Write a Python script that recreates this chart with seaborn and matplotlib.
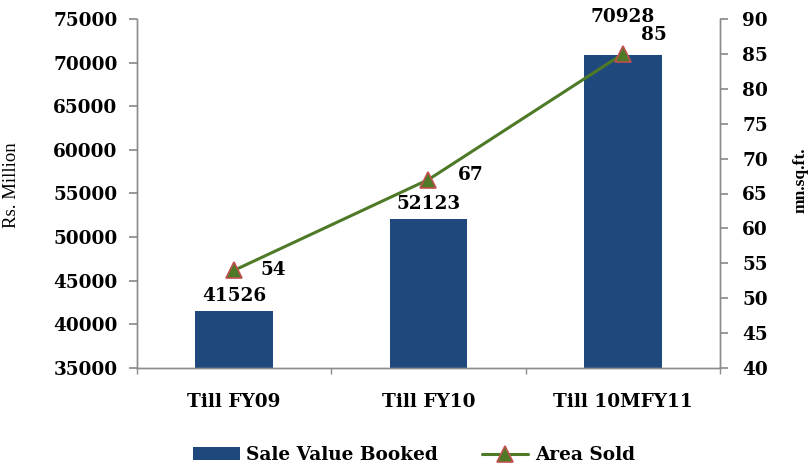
import matplotlib
matplotlib.use("Agg")
import matplotlib.pyplot as plt
import seaborn as sns
import numpy as np

categories = ["Till FY09", "Till FY10", "Till 10MFY11"]
sale_value = [41526, 52123, 70928]
area_sold = [54, 67, 85]
left_ticks = [35000, 40000, 45000, 50000, 55000, 60000, 65000, 70000, 75000]
right_ticks = [40, 45, 50, 55, 60, 65, 70, 75, 80, 85, 90]

sns.set_theme(style="white")
plt.rcParams['font.family'] = ['DejaVu Serif']
plt.rcParams['font.weight'] = 'bold'
plt.rcParams['text.color'] = 'black'
plt.rcParams['axes.labelcolor'] = 'black'
plt.rcParams['xtick.color'] = 'black'
plt.rcParams['ytick.color'] = 'black'

bar_color = "#1F497D"
line_color = "#4E7A27"
edge_red = "#C0504D"
axis_gray = "#8C8C8C"
fs = 13.3

fig = plt.figure(figsize=(8.12, 4.65), dpi=100)
ax = fig.add_axes([137/812, 1-368/465, (720-137)/812, (368-19)/465])

sns.barplot(x=categories, y=sale_value, ax=ax, color=bar_color, width=0.4,
            saturation=1, edgecolor="none", label="Sale Value Booked")
ax.set_xlim(-0.5, 2.5)
ax.set_ylim(35000, 75000)
ax.set_yticks(left_ticks)
ax.set_yticklabels([str(t) for t in left_ticks], fontsize=fs, fontweight='bold')
ax.set_xticks(range(3))
ax.set_xticklabels(categories, fontsize=fs, fontweight='bold')
ax.tick_params(axis='x', length=0, pad=18, labelcolor='black')
ax.set_xticks([-0.5, 0.5, 1.5, 2.5], minor=True)
ax.tick_params(axis='x', which='minor', length=4, color=axis_gray, direction='out', bottom=True)
ax.tick_params(axis='y', length=6, color=axis_gray, labelcolor='black', direction='out', left=True, pad=8)

bar_offsets = [6, 6, 29]
for i, v in enumerate(sale_value):
    ax.annotate(f"{v}", (i, v), xytext=(0, bar_offsets[i]), textcoords='offset pixels',
                ha='center', va='bottom', fontsize=fs, fontweight='bold', color='black')

ax2 = ax.twinx()
sns.pointplot(x=categories, y=area_sold, ax=ax2, color=line_color, markers='^',
              linewidth=2.2, markersize=11, label="Area Sold")
for ln in ax2.lines:
    ln.set_markeredgecolor(edge_red)
    ln.set_markerfacecolor(line_color)
    ln.set_markeredgewidth(1.2)
ax2.set_xlim(-0.5, 2.5)
ax2.set_ylim(40, 90)
ax2.set_yticks(right_ticks)
ax2.set_yticklabels([str(t) for t in right_ticks], fontsize=fs, fontweight='bold')
ax2.tick_params(axis='y', length=6, color=axis_gray, labelcolor='black', direction='out', right=True, pad=10)

offsets = [(39, 0), (42, 5), (31, 19)]
for i, v in enumerate(area_sold):
    ax2.annotate(f"{v}", (i, v), xytext=offsets[i], textcoords='offset pixels',
                 ha='center', va='center', fontsize=fs, fontweight='bold', color='black')

for a in (ax, ax2):
    a.grid(False)
    a.spines['top'].set_visible(False)
    for s in ('left', 'right', 'bottom'):
        a.spines[s].set_color(axis_gray)
        a.spines[s].set_linewidth(1.0)
ax.set_ylabel("Rs. Million", fontsize=13.5, fontweight='normal', family='Liberation Serif', color='black')
ax.yaxis.set_label_coords((20-137)/583, (368-185)/349)
ax2.set_ylabel("mn.sq.ft.", fontsize=12.5, fontweight='bold', family='Liberation Serif', color='black')
ax2.yaxis.set_label_coords((793-137)/583, (368-180)/349)
ax.set_xlabel("")

h1, l1 = ax.get_legend_handles_labels()
h2, l2 = ax2.get_legend_handles_labels()
for a in (ax, ax2):
    if a.get_legend() is not None:
        a.get_legend().remove()
leg = fig.legend(h1 + h2, l1 + l2, loc='center', bbox_to_anchor=(0.51, 1-455/465),
                 ncol=2, frameon=False, prop={'weight': 'bold', 'size': fs},
                 handlelength=2.5, columnspacing=2.4, handletextpad=0.35,
                 borderpad=0.1)
for t in leg.get_texts():
    t.set_color('black')

fig.savefig("out.png", dpi=100)
